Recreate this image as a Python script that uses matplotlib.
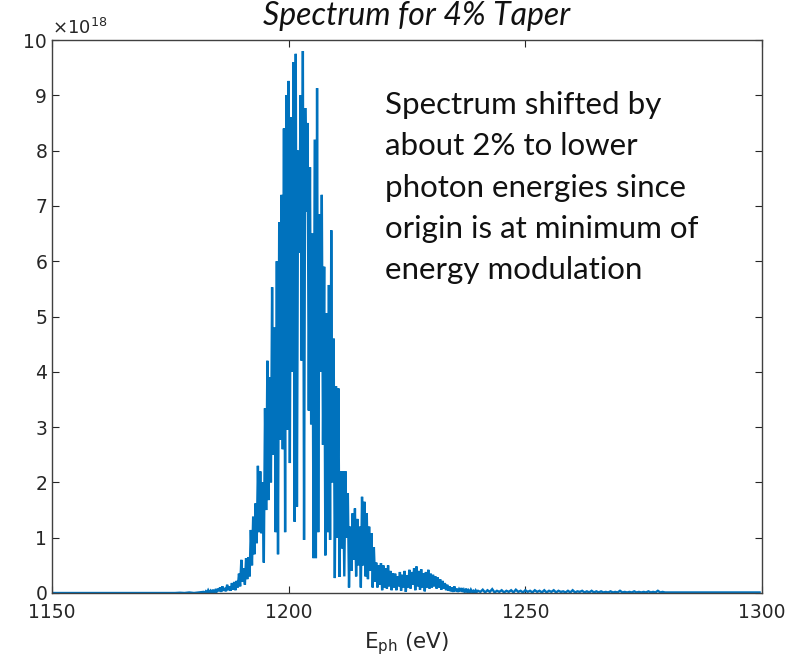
import numpy as np
import matplotlib
matplotlib.use("Agg")
import matplotlib.pyplot as plt

# Photon spectrum (units of 1e18), sampled every 0.25 eV from 1182 eV
core_start_ev = 1182.0
core_step_ev = 0.25
core_intensity = [
    0.02, 0.0, 0.03, 0.0, 0.05, 0.01, 0.04, 0.0, 0.06, 0.01, 0.05, 0.02, 0.08,
    0.03, 0.1, 0.02, 0.12, 0.04, 0.09, 0.03, 0.15, 0.05, 0.12, 0.04, 0.18, 0.06, 0.2, 0.05, 0.22,
    0.1, 0.35, 0.12, 0.6, 0.2, 0.45, 0.15, 0.63, 0.25, 0.65, 0.3, 1.14,
    0.5, 1.38, 0.7, 1.62, 0.9, 2.3, 1.1, 2.2, 1.08, 2.0, 0.55, 3.34,
    1.5, 4.2, 1.68, 3.9, 2.0, 5.53, 2.5, 4.8,
    1.1, 6.0, 0.7, 6.7, 2.77, 7.2, 2.6, 8.4, 1.1, 9.0, 2.95, 9.26,
    2.35, 8.6, 4.0, 9.6, 1.29, 9.75, 1.56, 8.0, 6.15, 9.0, 4.2, 9.8,
    0.96, 8.77, 6.9, 8.5, 3.3, 7.7, 3.05, 6.5, 0.63, 8.2, 0.63, 9.13,
    1.1, 6.85, 4.0, 7.2, 2.68, 5.9, 0.68, 5.06, 1.1, 5.57, 0.96, 6.56,
    2.0, 4.6, 0.27, 3.74, 1.0, 3.7, 0.29, 2.2, 0.8, 2.2, 0.3, 2.2,
    1.0, 1.8, 0.1, 1.2, 0.4, 1.44, 0.6, 1.53, 0.3, 1.34, 0.5, 1.2,
    0.1, 1.74, 0.5, 1.65, 0.3, 1.44, 0.25, 1.2, 0.4, 1.08, 0.1, 0.83,
    0.2, 0.55, 0.1, 0.5, 0.15, 0.54, 0.05, 0.5, 0.1, 0.45, 0.08, 0.5, 0.12, 0.4, 0.05, 0.36,
    0.1, 0.35, 0.05, 0.3, 0.12, 0.38, 0.04, 0.33, 0.1, 0.4, 0.02, 0.32,
    0.1, 0.42, 0.08, 0.38, 0.15, 0.45, 0.05, 0.48,
    0.12, 0.4, 0.06, 0.43, 0.1, 0.36, 0.03, 0.38,
    0.1, 0.42, 0.08, 0.35,
    0.1, 0.33, 0.12, 0.3, 0.08, 0.28, 0.1, 0.25,
    0.06, 0.22, 0.08, 0.18, 0.05, 0.15, 0.04, 0.12,
    0.03, 0.1, 0.02, 0.12, 0.03, 0.08, 0.02, 0.07,
    0.03, 0.09, 0.02, 0.06, 0.01, 0.08, 0.02, 0.05, 0.01, 0.06, 0.02, 0.04, 0.01, 0.05, 0.02, 0.04,
]

# Low-energy baseline, 1 eV steps from 1150 eV
low_start_ev = 1150.0
low_intensity = [
    0.0, 0.0, 0.0, 0.0, 0.0, 0.0, 0.0, 0.0, 0.0, 0.0, 0.0, 0.0, 0.0, 0.0, 0.0, 0.0,
    0.0, 0.0, 0.0, 0.0, 0.0, 0.0, 0.0, 0.0, 0.0, 0.0, 0.0, 0.005, 0.0, 0.01, 0.0, 0.01,
]

# High-energy tail, 0.5 eV steps from 1240.5 eV
tail_start_ev = 1240.5
tail_step_ev = 0.5
tail_intensity = [
    0.02, 0.06, 0.01, 0.05, 0.02, 0.07, 0.01, 0.04, 0.02, 0.05, 0.01, 0.04,
    0.02, 0.05, 0.01, 0.06, 0.02, 0.04, 0.01, 0.05, 0.02, 0.04, 0.01, 0.05,
    0.02, 0.04, 0.01, 0.05, 0.01, 0.04, 0.02, 0.05, 0.01, 0.04, 0.02, 0.03,
    0.01, 0.04, 0.01, 0.05, 0.01, 0.03, 0.02, 0.04, 0.01, 0.03, 0.01, 0.04,
    0.01, 0.03, 0.01, 0.03, 0.01, 0.02, 0.01, 0.03, 0.01, 0.02, 0.01, 0.04,
    0.01, 0.02, 0.01, 0.02, 0.01, 0.03, 0.01, 0.02, 0.01, 0.02, 0.01, 0.03,
    0.01, 0.02, 0.01, 0.04, 0.01, 0.02, 0.01, 0.01, 0.01, 0.01, 0.01, 0.01,
    0.01, 0.01, 0.01, 0.01, 0.01, 0.01, 0.01, 0.01, 0.01, 0.01, 0.01, 0.01,
    0.01, 0.01, 0.01, 0.01, 0.01, 0.01, 0.01, 0.01, 0.01, 0.01, 0.01, 0.01,
    0.01, 0.01, 0.01, 0.01, 0.01, 0.01, 0.01, 0.01, 0.01, 0.01, 0.01,
]

x_ticks = [1150, 1200, 1250, 1300]
y_ticks = [0, 1, 2, 3, 4, 5, 6, 7, 8, 9, 10]

title_text = "Spectrum for 4% Taper"
note_text = ("Spectrum shifted by\nabout 2% to lower\nphoton energies since\n"
             "origin is at minimum of\nenergy modulation")

low_ev = low_start_ev + np.arange(len(low_intensity)) * 1.0
core_ev = core_start_ev + np.arange(len(core_intensity)) * core_step_ev
tail_ev = tail_start_ev + np.arange(len(tail_intensity)) * tail_step_ev

energy = np.concatenate([low_ev, core_ev, tail_ev])
intensity = np.concatenate([low_intensity, core_intensity, tail_intensity])

fig = plt.figure(figsize=(7.96, 6.69), dpi=100)
ax = fig.add_axes([52 / 796, 76 / 669, 710 / 796, 553 / 669])

ax.plot(energy, intensity, color="#0072BD", linewidth=1.7,
        solid_joinstyle="miter")

ax.set_xlim(1150, 1300)
ax.set_ylim(0, 10)
ax.set_xticks(x_ticks)
ax.set_yticks(y_ticks)
ax.tick_params(direction="in", top=True, right=True, length=5, width=0.8,
               colors="#262626", labelsize=13.5, labelcolor="#262626")
ax.tick_params(axis="x", pad=7)
for s in ax.spines.values():
    s.set_color("#404040")
    s.set_linewidth(1.0)

ax.text(0.0, 1.004, r"$\times10^{18}$", transform=ax.transAxes, ha="left",
        va="bottom", fontsize=13, color="#262626")

ax.set_xlabel(r"E$_{\mathrm{ph}}$ (eV)", fontsize=15.5, color="#262626", labelpad=6)

fig.text(417 / 796, 1 - 25 / 669, title_text, ha="center", va="baseline",
         fontsize=23, style="italic", family="Lato", color="#111111")

fig.text(385 / 796, 1 - 91 / 669, note_text, ha="left", va="top",
         fontsize=22.5, family="Lato", color="#111111", linespacing=1.58)

fig.savefig("out.png", dpi=100)
